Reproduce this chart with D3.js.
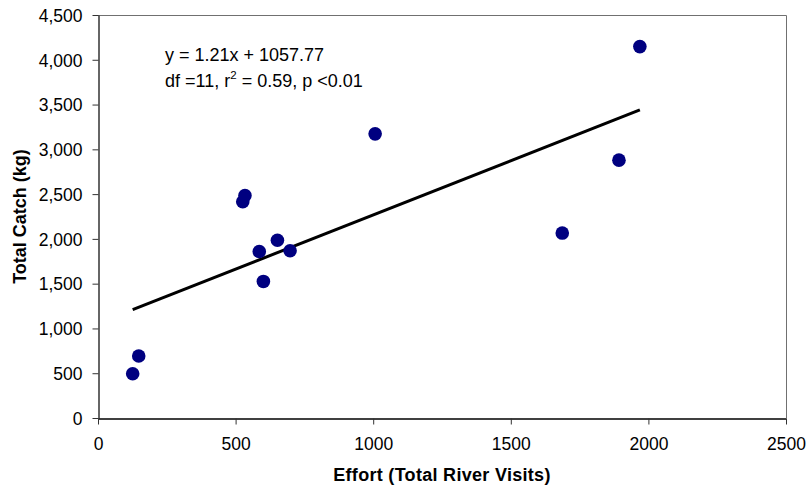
<!DOCTYPE html>
<html>
<head>
<meta charset="utf-8">
<script src="https://cdn.jsdelivr.net/npm/d3@7"></script>
<style>
  html, body { margin: 0; padding: 0; background: #fff; }
  svg { display: block; font-family: Arial, "Liberation Sans", Helvetica, sans-serif; }
</style>
</head>
<body>
<svg id="chart" width="808" height="487"></svg>
<script>
// Effort (total river visits) vs total catch (kg)
const effort = [126, 148, 526, 534, 586, 601, 652, 698, 1007, 1687, 1893, 1969];
const catchKg = [494, 692, 2414, 2484, 1859, 1525, 1985, 1867, 3173, 2065, 2879, 4147];

// Regression fit as printed on the chart
const slope = 1.21;
const intercept = 1057.77;
const eqLines = ["y = 1.21x + 1057.77"];

const xTicks = [0, 500, 1000, 1500, 2000, 2500];
const yTicks = [0, 500, 1000, 1500, 2000, 2500, 3000, 3500, 4000, 4500];

const xTitle = "Effort (Total River Visits)";
const yTitle = "Total Catch (kg)";

const svg = d3.select("#chart");
const plotL = 98, plotR = 786, plotT = 15, plotB = 418;
const font = "Arial, 'Liberation Sans', sans-serif";

const x = d3.scaleLinear().domain([0, 2500]).range([plotL, plotR]);
const y = d3.scaleLinear().domain([0, 4500]).range([plotB, plotT]);

// Plot frame (top and right edges)
svg.append("path")
  .attr("d", `M${plotL},${plotT + 0.5}H${plotR + 0.5}V${plotB}`)
  .attr("fill", "none")
  .attr("stroke", "#707070")
  .attr("stroke-width", 1);

// Y axis
const yAxis = svg.append("g")
  .attr("transform", `translate(${plotL + 0.5},0)`)
  .call(d3.axisLeft(y).tickValues(yTicks).tickSize(6).tickSizeOuter(0)
    .tickFormat(d3.format(",")));
yAxis.select(".domain").attr("stroke", "#333").attr("stroke-width", 1.5);
yAxis.selectAll(".tick line").attr("stroke", "#333");
yAxis.selectAll("text")
  .attr("x", -16)
  .attr("dy", "0.36em")
  .attr("font-size", 17.5)
  .attr("font-family", font)
  .attr("fill", "#000");

// X axis
const xAxis = svg.append("g")
  .attr("transform", `translate(0,${plotB + 0.5})`)
  .call(d3.axisBottom(x).tickValues(xTicks).tickSize(6).tickSizeOuter(0)
    .tickFormat(d3.format("d")));
xAxis.select(".domain").attr("stroke", "#000").attr("stroke-width", 1.5);
xAxis.selectAll(".tick line").attr("stroke", "#333");
xAxis.selectAll("text")
  .attr("y", 31.5)
  .attr("dy", 0)
  .attr("font-size", 17.5)
  .attr("font-family", font)
  .attr("fill", "#000");

// Axis titles
svg.append("text")
  .attr("x", (plotL + plotR) / 2)
  .attr("y", 480.5)
  .attr("text-anchor", "middle")
  .attr("font-size", 18)
  .attr("font-weight", "bold")
  .attr("letter-spacing", 0.3)
  .text(xTitle);

svg.append("text")
  .attr("transform", `translate(26,${(plotT + plotB) / 2}) rotate(-90)`)
  .attr("text-anchor", "middle")
  .attr("font-size", 18)
  .attr("font-weight", "bold")
  .text(yTitle);

// Trend line across the observed effort range
const xExt = d3.extent(effort);
const fit = xExt.map(v => [v, slope * v + intercept]);
svg.append("path")
  .datum(fit)
  .attr("d", d3.line().x(d => x(d[0])).y(d => y(d[1])))
  .attr("fill", "none")
  .attr("stroke", "#000")
  .attr("stroke-width", 3);

// Data points
svg.append("g")
  .selectAll("circle")
  .data(effort.map((e, i) => [e, catchKg[i]]))
  .join("circle")
  .attr("cx", d => x(d[0]))
  .attr("cy", d => y(d[1]))
  .attr("r", 6.8)
  .attr("fill", "#000080");

// Equation and statistics
const note = svg.append("g").attr("font-size", 18).attr("fill", "#000");
note.append("text").attr("x", 165).attr("y", 61).text(eqLines[0]);
const stat = note.append("text").attr("x", 165).attr("y", 86.5);
stat.append("tspan").text("df =11, r");
stat.append("tspan").attr("font-size", 11.5).attr("dy", -8).text("2");
stat.append("tspan").attr("dy", 8).text(" = 0.59, p <0.01");
</script>
</body>
</html>
